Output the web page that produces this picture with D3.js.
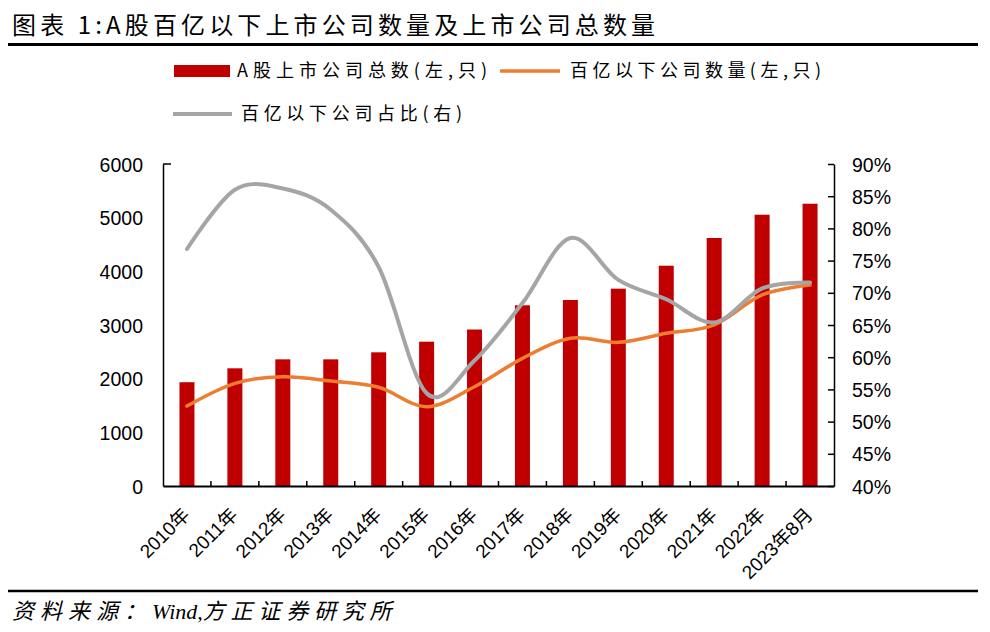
<!DOCTYPE html>
<html><head><meta charset="utf-8">
<script src="https://cdn.jsdelivr.net/npm/d3@7"></script>
<style>body{margin:0;background:#fff} svg{display:block}</style>
</head><body>
<svg id="c" width="990" height="632"></svg>
<script>
const categories = ["2010年","2011年","2012年","2013年","2014年","2015年","2016年","2017年","2018年","2019年","2020年","2021年","2022年","2023年8月"];
const totalListed = [1934, 2193, 2360, 2360, 2491, 2689, 2916, 3367, 3466, 3677, 4105, 4621, 5055, 5260];
const under10bn = [1490, 1913, 2037, 1956, 1840, 1478, 1850, 2379, 2752, 2677, 2845, 3000, 3560, 3745];
const under10bnShare = [76.8, 86.0, 86.2, 82.9, 74.0, 54.4, 59.5, 68.4, 78.5, 72.0, 69.0, 65.4, 70.7, 71.6];
const leftTicks = [0, 1000, 2000, 3000, 4000, 5000, 6000];
const rightTicks = [40, 45, 50, 55, 60, 65, 70, 75, 80, 85, 90];
const legendLabels = ["A股上市公司总数(左,只)", "百亿以下公司数量(左,只)", "百亿以下公司占比(右)"];
const titleText = "图表 1:A股百亿以下上市公司数量及上市公司总数量";
const sourceParts = ["资料来源：", "Wind,", "方正证券研究所"];

const colors = {bar: "#C00000", orange: "#ED7D31", gray: "#A5A5A5"};
const svg = d3.select("#c");
const font = "'Liberation Sans','Noto Sans CJK SC',sans-serif";
const cjk = "'Noto Sans CJK SC',sans-serif";

const L = 163, R = 834, T = 164, B = 486;
const x = d3.scaleBand().domain(categories).range([L, R]).paddingInner(0.687).paddingOuter(0.3435);
const yL = d3.scaleLinear().domain([0, 6000]).range([B, T]);
const yR = d3.scaleLinear().domain([40, 90]).range([B, T]);
const cx = c => x(c) + x.bandwidth() / 2;

// title
svg.append("text").attr("x", 12).attr("y", 34).attr("font-family", cjk).attr("font-size", 24)
  .attr("textLength", 643).attr("lengthAdjust", "spacing").attr("fill", "#000").text(titleText);
svg.append("line").attr("x1", 8).attr("x2", 978).attr("y1", 44.5).attr("y2", 44.5).attr("stroke", "#000").attr("stroke-width", 3);

// legend
const lg = svg.append("g").attr("font-family", cjk).attr("font-size", 18).attr("fill", "#000");
lg.append("rect").attr("x", 174).attr("y", 65).attr("width", 56).attr("height", 12).attr("fill", colors.bar);
lg.append("text").attr("x", 237).attr("y", 71).attr("dy", "0.36em").attr("textLength", 250).attr("lengthAdjust", "spacing").text(legendLabels[0]);
lg.append("line").attr("x1", 500).attr("x2", 560).attr("y1", 71).attr("y2", 71).attr("stroke", colors.orange).attr("stroke-width", 3.5);
lg.append("text").attr("x", 570).attr("y", 71).attr("dy", "0.36em").attr("textLength", 251).attr("lengthAdjust", "spacing").text(legendLabels[1]);
lg.append("line").attr("x1", 173).attr("x2", 232).attr("y1", 114).attr("y2", 114).attr("stroke", colors.gray).attr("stroke-width", 4);
lg.append("text").attr("x", 241).attr("y", 114).attr("dy", "0.36em").attr("textLength", 221).attr("lengthAdjust", "spacing").text(legendLabels[2]);

// bars
svg.append("g").selectAll("rect").data(categories).join("rect")
  .attr("x", d => x(d)).attr("width", x.bandwidth())
  .attr("y", (d, i) => yL(totalListed[i])).attr("height", (d, i) => B - yL(totalListed[i]))
  .attr("fill", colors.bar);

// axes
const axL = svg.append("g").attr("transform", `translate(${L},0)`)
  .call(d3.axisLeft(yL).tickValues(leftTicks).tickSize(0).tickPadding(20).tickFormat(d3.format("d")));
axL.select(".domain").attr("stroke", "#000").attr("stroke-width", 1.5);
axL.selectAll("text").attr("font-family", font).attr("font-size", 19.5).attr("fill", "#000").attr("dy", "0.36em");
svg.append("line").attr("x1", L).attr("x2", L + 8).attr("y1", T).attr("y2", T).attr("stroke", "#000").attr("stroke-width", 1.5);

const axR = svg.append("g").attr("transform", `translate(${R},0)`)
  .call(d3.axisRight(yR).tickValues(rightTicks).tickSizeInner(-6).tickSizeOuter(0).tickPadding(18).tickFormat(d => d + "%"));
axR.select(".domain").attr("stroke", "#000").attr("stroke-width", 1.5);
axR.selectAll(".tick line").attr("stroke", "#000").attr("stroke-width", 1.5);
axR.selectAll("text").attr("font-family", font).attr("font-size", 19.5).attr("fill", "#000").attr("dy", "0.36em");

const axB = svg.append("g").attr("transform", `translate(0,${B})`)
  .call(d3.axisBottom(x).tickSize(0).tickFormat(""));
axB.select(".domain").attr("stroke", "#000").attr("stroke-width", 2);
const step = x.step();
svg.append("g").selectAll("line").data(categories.slice(1)).join("line")
  .attr("x1", d => x(d) - (step - x.bandwidth()) / 2).attr("x2", d => x(d) - (step - x.bandwidth()) / 2)
  .attr("y1", B).attr("y2", B - 5).attr("stroke", "#000").attr("stroke-width", 1.5);

// x labels
svg.append("g").selectAll("text").data(categories).join("text")
  .attr("transform", d => `translate(${cx(d) + 4},516) rotate(-45)`)
  .attr("text-anchor", "end").attr("font-family", font).attr("font-size", 19).attr("fill", "#000")
  .text(d => d);

// lines
const curve = d3.curveCardinal.tension(0);
const lineL = d3.line().x(d => cx(d[0])).y(d => yL(d[1])).curve(curve);
const lineR = d3.line().x(d => cx(d[0])).y(d => yR(d[1])).curve(curve);
svg.append("path").datum(categories.map((c, i) => [c, under10bn[i]])).attr("d", lineL)
  .attr("fill", "none").attr("stroke", colors.orange).attr("stroke-width", 3.5).attr("stroke-linecap", "round");
svg.append("path").datum(categories.map((c, i) => [c, under10bnShare[i]])).attr("d", lineR)
  .attr("fill", "none").attr("stroke", colors.gray).attr("stroke-width", 4).attr("stroke-linecap", "round");

// source
svg.append("line").attr("x1", 8).attr("x2", 978).attr("y1", 591).attr("y2", 591).attr("stroke", "#000").attr("stroke-width", 2.5);
const src = svg.append("text").attr("x", 12).attr("y", 619).attr("font-size", 22)
  .attr("font-style", "italic").attr("fill", "#000");
src.append("tspan").attr("font-family", cjk).attr("letter-spacing", 6).text(sourceParts[0]);
src.append("tspan").attr("font-family", "'Liberation Serif',serif").text(sourceParts[1]);
src.append("tspan").attr("font-family", cjk).attr("letter-spacing", 5.8).text(sourceParts[2]);
</script>
</body></html>
